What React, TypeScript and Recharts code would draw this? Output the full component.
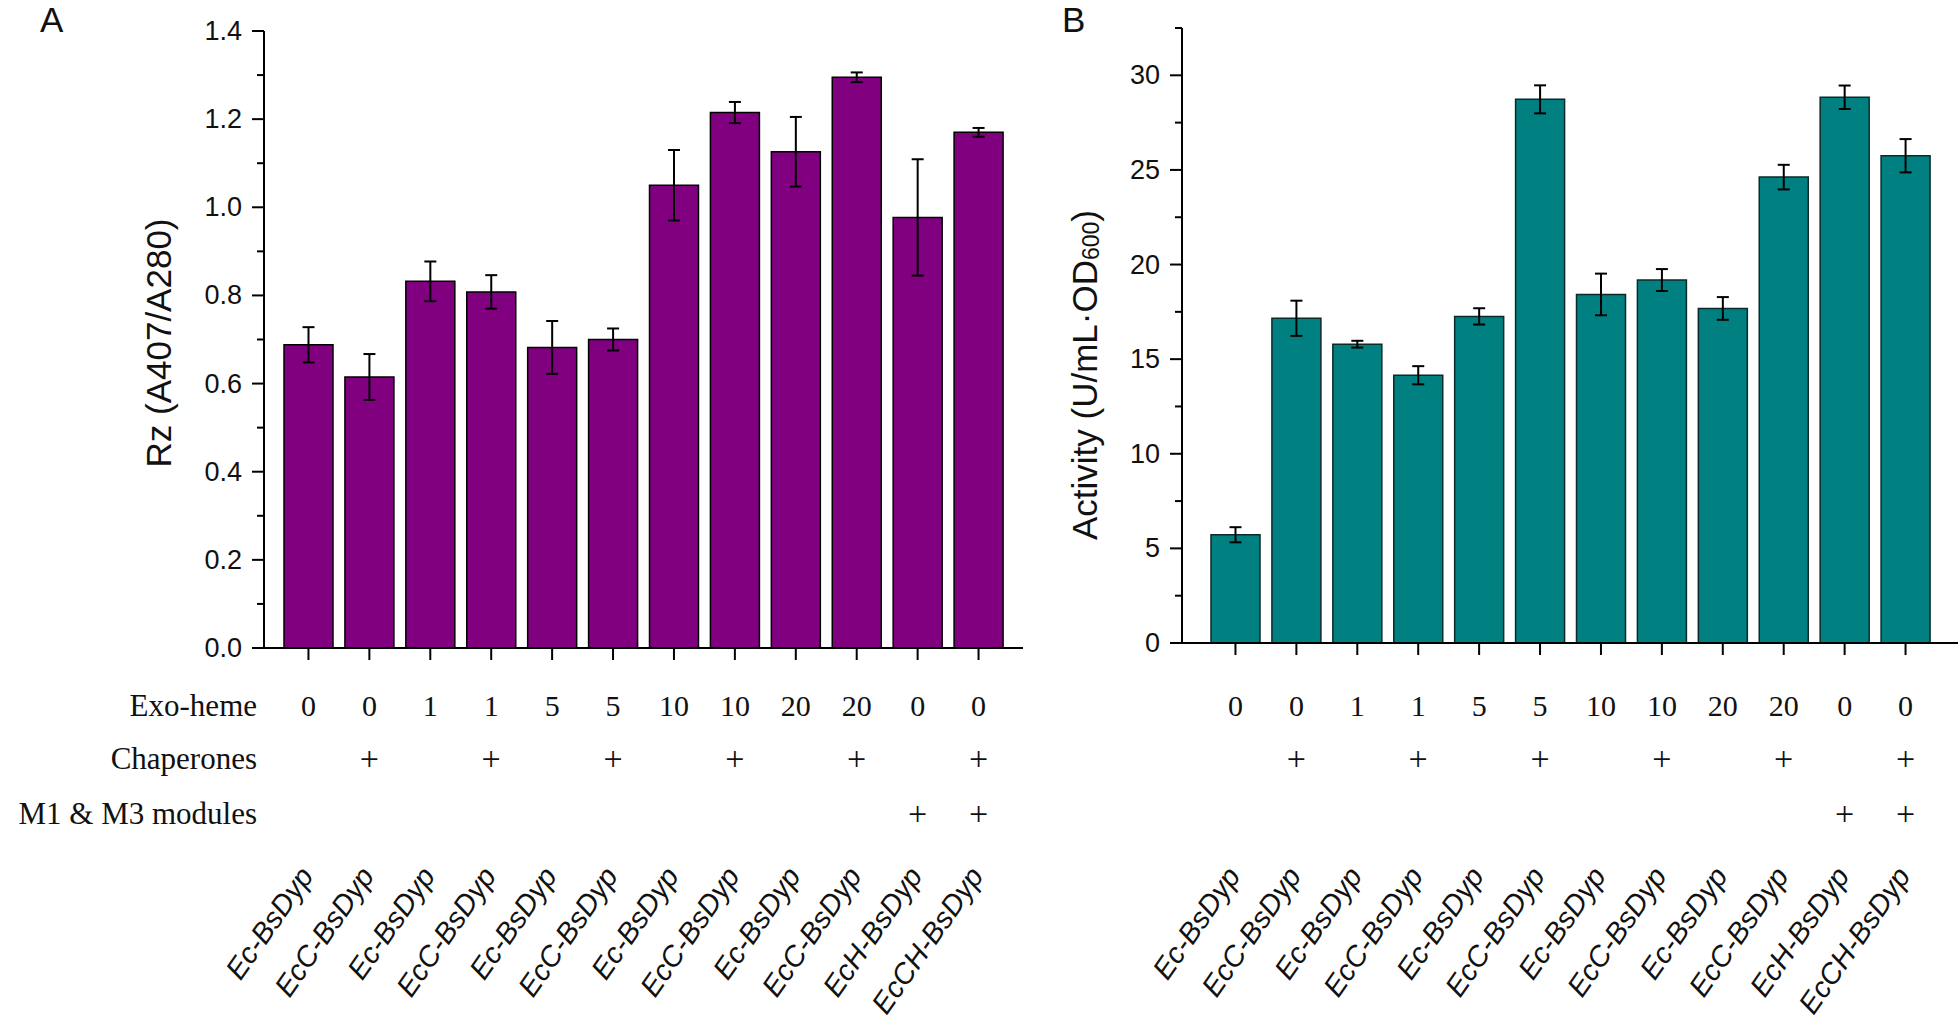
import React from 'react';
import { BarChart, Bar, XAxis, YAxis, ErrorBar } from 'recharts';

// ---------- data ----------
const strains = [
  'Ec-BsDyp', 'EcC-BsDyp', 'Ec-BsDyp', 'EcC-BsDyp', 'Ec-BsDyp', 'EcC-BsDyp',
  'Ec-BsDyp', 'EcC-BsDyp', 'Ec-BsDyp', 'EcC-BsDyp', 'EcH-BsDyp', 'EcCH-BsDyp',
];
const exoHeme = ['0', '0', '1', '1', '5', '5', '10', '10', '20', '20', '0', '0'];
const chaperones = ['', '+', '', '+', '', '+', '', '+', '', '+', '', '+'];
const modules = ['', '', '', '', '', '', '', '', '', '', '+', '+'];
const rowTitles = ['Exo-heme', 'Chaperones', 'M1 & M3 modules'];

const rzValues = [0.688, 0.615, 0.832, 0.808, 0.682, 0.700, 1.050, 1.215, 1.126, 1.295, 0.977, 1.170];
const rzErrors = [0.040, 0.052, 0.045, 0.038, 0.060, 0.025, 0.080, 0.024, 0.079, 0.011, 0.132, 0.010];

const activityValues = [5.72, 17.16, 15.79, 14.15, 17.26, 28.73, 18.42, 19.18, 17.68, 24.62, 28.84, 25.75];
const activityErrors = [0.40, 0.93, 0.18, 0.48, 0.43, 0.74, 1.10, 0.58, 0.60, 0.65, 0.62, 0.88];

const rzTicks = [0, 0.1, 0.2, 0.3, 0.4, 0.5, 0.6, 0.7, 0.8, 0.9, 1.0, 1.1, 1.2, 1.3, 1.4];
const rzTickLabels = ['0.0', '', '0.2', '', '0.4', '', '0.6', '', '0.8', '', '1.0', '', '1.2', '', '1.4'];
const activityTicks = [0, 2.5, 5, 7.5, 10, 12.5, 15, 17.5, 20, 22.5, 25, 27.5, 30, 32.5];
const activityTickLabels = ['0', '', '5', '', '10', '', '15', '', '20', '', '25', '', '30', ''];

const rzTitle = 'Rz (A407/A280)';
const activityTitle = ['Activity (U/mL\u00b7OD', '600', ')'];

// ---------- styles ----------
const SANS = '"Liberation Sans", Arial, Helvetica, sans-serif';
const SERIF = '"Liberation Serif", "Times New Roman", serif';
const W = 1958;
const H = 1017;
const ROW_Y = [705, 758, 813];
const LABEL_Y = 876;
const INK = '#111';

const table = strains.map((s, i) => ({
  id: i,
  name: s,
  rz: rzValues[i],
  rzErr: rzErrors[i],
  act: activityValues[i],
  actErr: activityErrors[i],
}));

const makeYTick = (labels: string[]) => (props: any) => {
  const { x, y, index } = props;
  const label = labels[index];
  const major = label !== '';
  return (
    <g>
      <line x1={x} y1={y} x2={x - (major ? 12 : 7)} y2={y} stroke="#000" strokeWidth={2} />
      {major && (
        <text x={x - 22} y={y} textAnchor="end" dominantBaseline="central"
          fontFamily={SANS} fontSize={27} fill={INK}>{label}</text>
      )}
    </g>
  );
};

const XTick = (props: any) => {
  const { x, y, index } = props;
  const ax = x + 6;
  return (
    <g>
      <line x1={x} y1={y} x2={x} y2={y + 12} stroke="#000" strokeWidth={2} />
      <text x={x} y={ROW_Y[0]} textAnchor="middle" dominantBaseline="central"
        fontFamily={SERIF} fontSize={30} fill={INK}>{exoHeme[index]}</text>
      {chaperones[index] && (
        <text x={x} y={ROW_Y[1]} textAnchor="middle" dominantBaseline="central"
          fontFamily={SERIF} fontSize={34} fill={INK}>{chaperones[index]}</text>
      )}
      {modules[index] && (
        <text x={x} y={ROW_Y[2]} textAnchor="middle" dominantBaseline="central"
          fontFamily={SERIF} fontSize={34} fill={INK}>{modules[index]}</text>
      )}
      <text x={ax} y={LABEL_Y} textAnchor="end" transform={`rotate(-55 ${ax} ${LABEL_Y})`}
        fontFamily={SANS} fontStyle="italic" fontSize={29} fill={INK}>{strains[index]}</text>
    </g>
  );
};

export default function App() {
  return (
    <div style={{ position: 'absolute', left: 0, top: 0, width: W, height: H, background: '#fff' }}>
      {/* Panel A */}
      <div style={{ position: 'absolute', left: 0, top: 0 }}>
        <BarChart width={1040} height={H} data={table}
          margin={{ top: 31, right: 17, bottom: 0, left: 0 }} barSize={49}>
          <XAxis dataKey="id" type="category" interval={0} height={H - 648}
            padding={{ left: 14, right: 14 }} axisLine={{ stroke: '#000', strokeWidth: 2 }}
            tickLine={false} tickSize={0} tickMargin={0} tick={XTick} />
          <YAxis type="number" domain={[0, 1.4]} ticks={rzTicks} interval={0} width={264}
            axisLine={{ stroke: '#000', strokeWidth: 2 }} tickLine={false} tickSize={0}
            tickMargin={0} tick={makeYTick(rzTickLabels)} />
          <Bar dataKey="rz" fill="#800080" stroke="#000" strokeWidth={1.5} isAnimationActive={false}>
            <ErrorBar dataKey="rzErr" width={6} stroke="#000" strokeWidth={2} />
          </Bar>
        </BarChart>
      </div>

      {/* Panel B */}
      <div style={{ position: 'absolute', left: 1100, top: 0 }}>
        <BarChart width={858} height={H} data={table}
          margin={{ top: 28, right: 0, bottom: 0, left: 0 }} barSize={49}>
          <XAxis dataKey="id" type="category" interval={0} height={H - 643}
            padding={{ left: 23, right: 22 }} axisLine={{ stroke: '#000', strokeWidth: 2 }}
            tickLine={false} tickSize={0} tickMargin={0} tick={XTick} />
          <YAxis type="number" domain={[0, 32.5]} ticks={activityTicks} interval={0} width={82}
            axisLine={{ stroke: '#000', strokeWidth: 2 }} tickLine={false} tickSize={0}
            tickMargin={0} tick={makeYTick(activityTickLabels)} />
          <Bar dataKey="act" fill="#008080" stroke="#0b2a2a" strokeWidth={1.5} isAnimationActive={false}>
            <ErrorBar dataKey="actErr" width={6} stroke="#000" strokeWidth={2} />
          </Bar>
        </BarChart>
      </div>

      {/* Text overlay */}
      <svg width={W} height={H} style={{ position: 'absolute', left: 0, top: 0, pointerEvents: 'none' }}>
        <text x={40} y={32} fontFamily={SANS} fontSize={35} fill={INK}>A</text>
        <text x={1062} y={32} fontFamily={SANS} fontSize={35} fill={INK}>B</text>
        <text x={158} y={343} transform="rotate(-90 158 343)" textAnchor="middle" dominantBaseline="central"
          fontFamily={SANS} fontSize={35} fill={INK}>{rzTitle}</text>
        <text x={1084} y={375} transform="rotate(-90 1084 375)" textAnchor="middle" dominantBaseline="central"
          fontFamily={SANS} fontSize={35} fill={INK}>
          {activityTitle[0]}
          <tspan fontSize={23} dy={7}>{activityTitle[1]}</tspan>
          <tspan dy={-7}>{activityTitle[2]}</tspan>
        </text>
        {rowTitles.map((t, i) => (
          <text key={t} x={257} y={ROW_Y[i]} textAnchor="end" dominantBaseline="central"
            fontFamily={SERIF} fontSize={31} fill={INK}>{t}</text>
        ))}
      </svg>
    </div>
  );
}
